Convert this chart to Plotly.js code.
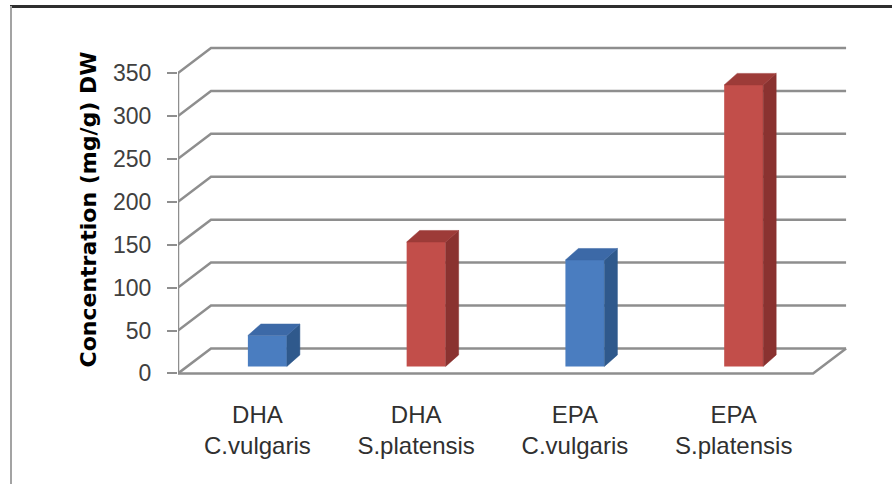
<!DOCTYPE html>
<html>
<head>
<meta charset="utf-8">
<script src="https://cdn.plot.ly/plotly-3.0.1.min.js"></script>
<style>
  html, body { margin: 0; padding: 0; background: #ffffff; overflow: hidden; }
  #wrap { position: relative; width: 892px; height: 484px; }
  #chart { position: absolute; left: 0; top: 0; width: 892px; height: 484px; }
  #frameTop { position: absolute; left: 10px; top: 5px; width: 882px; height: 3px; background: #2e2e2e; z-index: 5; }
  #frameLeft { position: absolute; left: 10px; top: 6px; width: 2px; height: 478px; background: #a3a3a3; z-index: 5; }
</style>
</head>
<body>
<div id="wrap">
  <div id="chart"></div>
  <div id="frameTop"></div>
  <div id="frameLeft"></div>
</div>
<script>
// ---- data ----
const acids   = ["DHA", "DHA", "EPA", "EPA"];
const species = ["C.vulgaris", "S.platensis", "C.vulgaris", "S.platensis"];
const values  = [36, 145, 124, 328];
const yTicks  = [0, 50, 100, 150, 200, 250, 300, 350];
const yTitle  = "Concentration (mg/g) DW";

// ---- geometry (pixel -> axis units) ----
const W = 892, H = 484;
const ML = 178, MR = 44, MT = 43;
const X_RANGE = [-0.5, 3.72];
const Y_RANGE = [-3, 385];
const PX_X = (W - ML - MR) / (X_RANGE[1] - X_RANGE[0]);
const PX_Y = 300 / 350;
const MB = H - MT - (Y_RANGE[1] - Y_RANGE[0]) * PX_Y;
const ux = p => p / PX_X;
const uy = p => p / PX_Y;

const DEPTH_X = ux(33), DEPTH_Y = uy(25);       // back wall offset
const BAR_W = ux(39);                             // front face width
const BAR_SHIFT_X = ux(10), BAR_BASE = uy(7);     // bar sits mid-depth
const BAR_DX = ux(13), BAR_DY = uy(11.5);         // bar depth

const xLeft = X_RANGE[0], xRight = xLeft + acids.length;

const palette = {
  "C.vulgaris":  { front: "#4a7dc0", side: "#2f598c", top: "#3c69a7" },
  "S.platensis": { front: "#c24e4a", side: "#8a3230", top: "#9d3b38" }
};
const gridColor = "#8e8e8e";

const traces = [];

// back wall gridlines with the diagonal from the front axis
const gx = [], gy = [];
yTicks.forEach(v => {
  gx.push(xLeft, xLeft + DEPTH_X, xRight + DEPTH_X, null);
  gy.push(v, v + DEPTH_Y, v + DEPTH_Y, null);
});
traces.push({ type: "scatter", mode: "lines", x: gx, y: gy, zorder: 0,
  line: { color: gridColor, width: 2.5 }, hoverinfo: "skip", showlegend: false });

// floor front edge + right edge, and the front vertical axis
traces.push({ type: "scatter", mode: "lines", zorder: 0,
  x: [xLeft, xRight, xRight + DEPTH_X, null, xLeft, xLeft],
  y: [0, 0, DEPTH_Y, null, 0, yTicks[yTicks.length - 1]],
  line: { color: gridColor, width: 2.5 }, hoverinfo: "skip", showlegend: false });

// bars (front faces) + side and top faces
const groups = [...new Set(species)];
groups.forEach(sp => {
  const idx = species.map((s, i) => s === sp ? i : -1).filter(i => i >= 0);
  const col = palette[sp];
  traces.push({
    type: "bar", name: sp, zorder: 1,
    x: idx, y: idx.map(i => values[i]),
    base: idx.map(() => BAR_BASE),
    width: BAR_W, offset: -BAR_W / 2 + BAR_SHIFT_X,
    marker: { color: col.front, line: { width: 0 } },
    showlegend: false
  });
  const sx = [], sy = [], tx = [], ty = [];
  idx.forEach(i => {
    const x0 = i - BAR_W / 2 + BAR_SHIFT_X, x1 = x0 + BAR_W;
    const yb = BAR_BASE, yt = BAR_BASE + values[i];
    sx.push(x1, x1, x1 + BAR_DX, x1 + BAR_DX, x1, null);
    sy.push(yb, yt, yt + BAR_DY, yb + BAR_DY, yb, null);
    tx.push(x0, x1, x1 + BAR_DX, x0 + BAR_DX, x0, null);
    ty.push(yt, yt, yt + BAR_DY, yt + BAR_DY, yt, null);
  });
  traces.push({ type: "scatter", mode: "lines", fill: "toself", zorder: 2,
    x: sx, y: sy, fillcolor: col.side, line: { color: col.side, width: 0.5 },
    hoverinfo: "skip", showlegend: false });
  traces.push({ type: "scatter", mode: "lines", fill: "toself", zorder: 2,
    x: tx, y: ty, fillcolor: col.top, line: { color: col.top, width: 0.5 },
    hoverinfo: "skip", showlegend: false });
});

const layout = {
  width: W, height: H,
  margin: { l: ML, r: MR, t: MT, b: MB, pad: 0 },
  paper_bgcolor: "#ffffff", plot_bgcolor: "rgba(0,0,0,0)",
  barmode: "overlay", showlegend: false,
  xaxis: {
    range: X_RANGE, tickmode: "array",
    tickvals: acids.map((_, i) => i),
    ticktext: acids.map((a, i) => a + "<br>" + species[i]),
    showgrid: false, zeroline: false, showline: false, ticks: "",
    tickfont: { family: "Liberation Sans, Arial, sans-serif", size: 24, color: "#303030" },
    ticklabelstandoff: 22, automargin: false, fixedrange: true
  },
  yaxis: {
    range: Y_RANGE, tickmode: "array", tickvals: yTicks,
    showgrid: false, zeroline: false, showline: false,
    ticks: "outside", ticklen: 10, tickwidth: 2, tickcolor: gridColor,
    tickfont: { family: "Liberation Sans, Arial, sans-serif", size: 23, color: "#404040" },
    ticklabelstandoff: 11, automargin: false, fixedrange: true,
    title: { text: yTitle, standoff: 10,
      font: { family: "DejaVu Sans, sans-serif", size: 22, color: "#000000", weight: "bold" } }
  }
};

Plotly.newPlot("chart", traces, layout, { staticPlot: true, displayModeBar: false });
</script>
</body>
</html>
